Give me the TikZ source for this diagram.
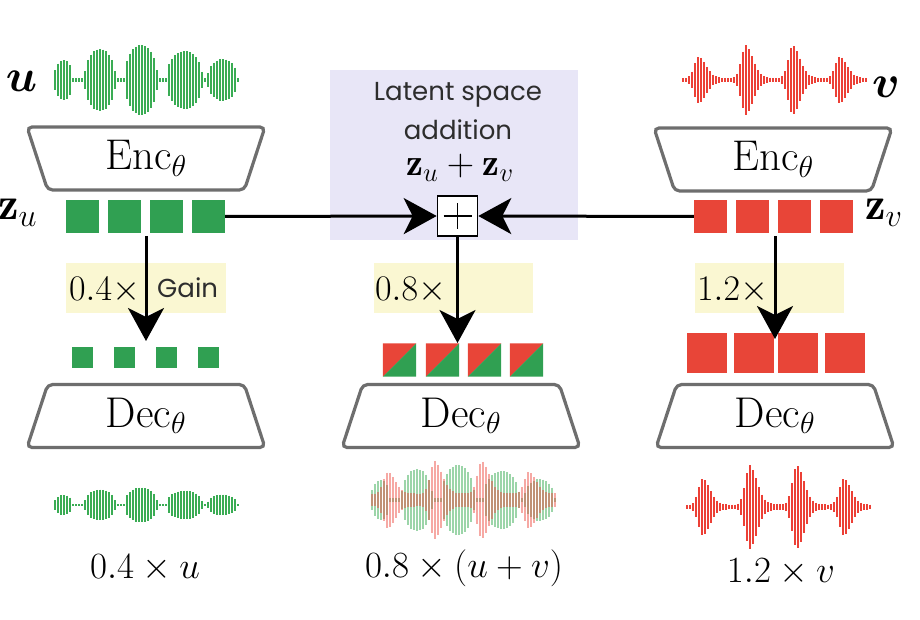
\RequirePackage{fix-cm}
\documentclass[tikz,border=0pt]{standalone}
\usepackage{amsmath,bm}
\usepackage{fontspec}
\newfontfamily\popfont{Poppins}
\usetikzlibrary{arrows.meta,shapes.geometric}
\definecolor{gr}{RGB}{48,160,82}
\definecolor{gw}{RGB}{58,172,84}
\definecolor{rd}{RGB}{232,69,56}
\definecolor{rw}{RGB}{236,64,54}
\definecolor{lav}{RGB}{232,230,247}
\definecolor{yel}{RGB}{250,247,210}
\definecolor{trap}{RGB}{110,110,110}
\definecolor{txt}{RGB}{45,45,45}
\newcommand{\uwave}[5]{%
  \foreach \wx in {0,3,...,183}{%
    \pgfmathsetmacro\wva{#3*(1.8+18*lobe(\wx,8.5,9.5)+29*lobe(\wx,45,15.5)+33*lobe(\wx,86,16.5)+27*lobe(\wx,129.5,18)+19*lobe(\wx,167.5,15))}%
    \draw[#4,opacity=#5,line width=2.4pt] (#1+\wx,#2-\wva) -- (#1+\wx,#2+\wva);
  }}
\newcommand{\vwave}[6]{%
  \foreach \wx in {0,3,...,183}{%
    \pgfmathsetmacro\wva{#3*(#6+22*burst(\wx-16)+33*burst(\wx-63)+33*burst(\wx-110)+22*burst(\wx-157))}%
    \draw[#4,opacity=#5,line width=2.4pt] (#1+\wx,#2-\wva) -- (#1+\wx,#2+\wva);
  }}
\tikzset{
  sq/.style={fill=#1, draw=none, minimum size=33pt, inner sep=0pt},
  codec/.style={shape=trapezium, trapezium angle=60, trapezium stretches body,
    minimum width=238pt, minimum height=63pt, draw=trap, line width=3.2pt,
    rounded corners=5pt, fill=white, inner sep=0pt, font=\fontsize{43}{47}\selectfont},
  enc/.style={codec, shape border rotate=180},
  dec/.style={codec},
  conn/.style={line width=3pt, black},
  bigarrow/.style={conn, -{Stealth[length=33pt,width=36pt,inset=9pt]}},
  addbox/.style={draw, line width=1.6pt, fill=white, minimum size=40pt, inner sep=0pt},
  mtxt/.style={inner sep=0pt},
  stxt/.style={inner sep=0pt, text=txt, font=\popfont\fontsize{26}{30}\selectfont},
  gtxt/.style={inner sep=0pt, anchor=west, font=\fontsize{36}{40}\selectfont},
  otxt/.style={inner sep=0pt, anchor=base, font=\fontsize{37}{42}\selectfont},
}
\begin{document}
\begin{tikzpicture}[x=1pt,y=-1pt,
  declare function={lobe(\x,\c,\w)=sqrt(max(0,1-((\x-\c)/\w)*((\x-\c)/\w)));
    burst(\d)=(\d<0)*exp(-min(max(min(\d,0),-20)*max(min(\d,0),-20)/42,9))
      +(1-(\d<0))*(0.8*exp(-min(min(max(\d,0),30)*min(max(\d,0),30)/100,9))+0.2*exp(-min(max(\d,0)/12,9)));}]
\useasboundingbox (0,0) rectangle (920,620);
% backgrounds
\fill[lav] (330,70) rectangle (578,240);
\fill[yel] (66,263) rectangle (226,313);
\fill[yel] (374,263) rectangle (533,313);
\fill[yel] (695,263) rectangle (844,313);
% top waves
\uwave{55}{80}{1}{gw}{1}
\vwave{683}{80}{1}{rw}{1}{1.5}
\node[mtxt, font=\fontsize{46}{50}\selectfont] (ul) at (21.5,81.5) {$\bm{u}$};
\node[mtxt, font=\fontsize{46}{50}\selectfont] (vl) at (886,87) {$\bm{v}$};
% encoders
\node[enc] (encu) at (146,158.5) {$\mathrm{Enc}_\theta$};
\node[enc] (encv) at (773,159.5) {$\mathrm{Enc}_\theta$};
% latent squares
\foreach \i/\x in {1/82.5,2/124.5,3/166.5,4/208.5} \node[sq=gr] (zu\i) at (\x,216.5) {};
\foreach \i/\x in {1/710.5,2/752.5,3/794.5,4/836.5} \node[sq=rd] (zv\i) at (\x,216.5) {};
\node[mtxt, anchor=base west, font=\fontsize{46}{50}\selectfont] (zul) at (-2,220) {$\mathbf{z}_u$};
\node[mtxt, anchor=base west, font=\fontsize{46}{50}\selectfont] (zvl) at (865,220) {$\mathbf{z}_v$};
% latent addition
\node[stxt, anchor=base] (lat1) at (458,101) {Latent space};
\node[stxt, anchor=base] (lat2) at (458,140) {addition};
\node[mtxt, anchor=base, font=\fontsize{38}{42}\selectfont] (zsum) at (460,176) {$\mathbf{z}_u+\mathbf{z}_v$};
\node[addbox] (add) at (457.5,216) {};
\draw[line width=1.2pt] ([xshift=-14pt]add.center) -- ([xshift=14pt]add.center);
\draw[line width=1.2pt] ([yshift=-13pt]add.center) -- ([yshift=13pt]add.center);
\draw[bigarrow] (zu4.east) -- (add.west);
\draw[bigarrow] (zv1.west) -- (add.east);
% gains
\node[gtxt] (g1) at (69,290) {$0.4\times$};
\node[stxt, anchor=west] (gain) at (157,288) {Gain};
\node[gtxt] (g2) at (375,290) {$0.8\times$};
\node[gtxt] (g3) at (697,290) {$1.2\times$};
% vertical arrows
\coordinate (ua0) at (146,236);
\coordinate (ua1) at (146,341);
\coordinate (ma1) at (457.5,343);
\coordinate (va0) at (775,236);
\coordinate (va1) at (775,339);
% scaled latents
\foreach \i/\x in {1/82.5,2/124.5,3/166.5,4/208.5} \node[sq=gr, minimum size=21pt] (du\i) at (\x,357.5) {};
\foreach \i/\x in {1/399.5,2/442.5,3/484.5,4/526.5}{
  \node[sq=none, minimum size=33pt] (dm\i) at (\x,360) {};
  \fill[rd] (dm\i.north west) -- (dm\i.north east) -- (dm\i.south west) -- cycle;
  \fill[gr] (dm\i.north east) -- (dm\i.south east) -- (dm\i.south west) -- cycle;
}
\foreach \i/\x in {1/707,2/753.5,3/797.5,4/845} \node[sq=rd, minimum size=40pt] (dv\i) at (\x,353) {};
\draw[bigarrow] (ua0) -- (ua1);
\draw[bigarrow] (add.south) -- (ma1);
\draw[bigarrow] (va0) -- (va1);
% decoders
\node[dec] (decu) at (146,416) {$\mathrm{Dec}_\theta$};
\node[dec] (decm) at (461,416) {$\mathrm{Dec}_\theta$};
\node[dec] (decv) at (775,416) {$\mathrm{Dec}_\theta$};
% output waves
\uwave{55}{505}{0.5}{gw}{1}
\uwave{372}{500}{1}{gw}{0.5}
\vwave{372}{500}{1}{rw}{0.45}{6}
\vwave{687}{507}{1.2}{rw}{1}{1.5}
% output labels
\node[otxt] (lu) at (145,578) {$0.4\times u$};
\node[otxt] (lm) at (464,577) {$0.8\times(u+v)$};
\node[otxt] (lv) at (781,582) {$1.2\times v$};
\end{tikzpicture}
\end{document}
